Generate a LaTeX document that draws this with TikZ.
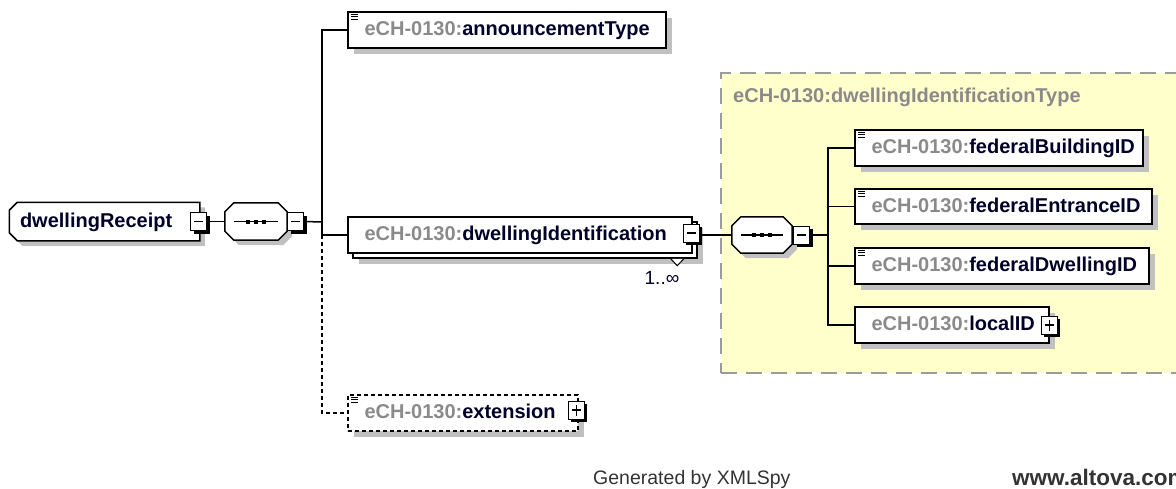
\documentclass[tikz,border=0pt]{standalone}
\usepackage{fontspec}
\setmainfont{Liberation Sans}
\usetikzlibrary{positioning,calc,shadows}

\definecolor{pfxgray}{RGB}{138,138,138}
\definecolor{namenavy}{RGB}{0,0,40}
\definecolor{shadegray}{RGB}{192,192,192}
\definecolor{typefill}{RGB}{255,255,204}
\definecolor{typeline}{RGB}{155,155,155}
\definecolor{footgray}{RGB}{51,51,51}

\pgfdeclarelayer{bg}
\pgfsetlayers{bg,main}

\newcommand{\ename}[1]{\mbox{\textcolor{pfxgray}{eCH-0130:}#1}}
% outline with cut corners: node, left cut, right cut, x offset, y offset
\newcommand{\cutpath}[5]{($(#1.north west)+(#2+#4,#5)$) -- ($(#1.north east)+(-#3+#4,#5)$)
  -- ($(#1.north east)+(#4,#3+#5)$) -- ($(#1.south east)+(#4,-#3+#5)$)
  -- ($(#1.south east)+(-#3+#4,#5)$) -- ($(#1.south west)+(#2+#4,#5)$)
  -- ($(#1.south west)+(#4,-#2+#5)$) -- ($(#1.north west)+(#4,#2+#5)$) -- cycle}

\tikzset{
  wire/.style={line width=1.5pt},
  gshadow/.style={drop shadow={shadow xshift=#1, shadow yshift=-#1, fill=shadegray, draw=none, opacity=1}},
  elembase/.style={draw, line width=1.5pt, fill=white, minimum height=36, inner xsep=16.5, inner ysep=0,
    align=left, text height=15, text depth=4, text=namenavy, font=\bfseries\fontsize{20}{24}\selectfont},
  elem/.style={elembase, gshadow=6pt},
  rootbox/.style={elembase, draw=none, fill=none, inner xsep=10, minimum width=189, minimum height=37},
  seqbox/.style={minimum width=62, minimum height=37, inner sep=0},
  cutline/.style={draw, line width=1.5pt, fill=white},
  pmbase/.style={draw, line width=0.9pt, fill=white, minimum width=16, minimum height=18, inner sep=0,
    drop shadow={shadow xshift=3pt, shadow yshift=-3pt, fill=black, draw=none, opacity=1}},
  minusbox/.style={pmbase, path picture={
    \draw[line width=1.2pt] ([xshift=3.5pt]path picture bounding box.west) -- ([xshift=-3.5pt]path picture bounding box.east);}},
  plusbox/.style={pmbase, path picture={
    \draw[line width=1.2pt] ([xshift=3.5pt]path picture bounding box.west) -- ([xshift=-3.5pt]path picture bounding box.east);
    \draw[line width=1.2pt] ([yshift=-3.5pt]path picture bounding box.north) -- ([yshift=3.5pt]path picture bounding box.south);}},
  docicon/.style={line width=0.9pt},
  typearea/.style={draw=typeline, fill=typefill, line width=1.5pt, dash pattern=on 16pt off 9pt},
  typetitle/.style={text=pfxgray, font=\bfseries\fontsize{20}{24}\selectfont, inner sep=0},
  mult/.style={text=namenavy, font=\fontsize{19}{22}\selectfont, inner sep=0},
  footer/.style={text=footgray, font=\fontsize{19.5}{23}\selectfont, inner sep=0},
}

\begin{document}
\begin{tikzpicture}[x=1pt,y=-1pt]
\useasboundingbox (0,0) rectangle (1176,488);

% type area behind the inner sequence
\begin{pgfonlayer}{bg}
\node[typearea, anchor=north west, minimum width=480, minimum height=300] (tarea) at (720,72) {};
\end{pgfonlayer}
\node[typetitle, anchor=west] (ttl) at (733,97) {eCH-0130:dwellingIdentificationType};

% root and its sequence
\node[rootbox, text width=169] (root) at (104.5,221.5) {dwellingReceipt};
\node[seqbox] (seq1) at (256,221.5) {};
\node[seqbox, minimum width=60, minimum height=36] (seq2) at (762,235) {};
\begin{pgfonlayer}{bg}
\fill[shadegray] \cutpath{root}{8}{0}{5}{5};
\draw[cutline] \cutpath{root}{8}{0}{0}{0};
\foreach \s in {seq1,seq2}{
  \fill[shadegray] \cutpath{\s}{9}{9}{5}{5};
  \draw[cutline] \cutpath{\s}{9}{9}{0}{0};
}
\end{pgfonlayer}
\node[minusbox] (rootm) at ([xshift=-1pt]root.east) {};
\node[minusbox, anchor=west] (seq1m) at (seq1.east) {};
\node[minusbox, anchor=west] (seq2m) at ([xshift=1pt]seq2.east) {};

% children of dwellingReceipt
\node[elem, text width=285] (annT) at (507,30) {\ename{announcementType}};
\node[elembase, text width=311, gshadow=11pt, copy shadow={shadow xshift=5pt, shadow yshift=-5pt}] (dwId) at (520,235) {\ename{dwellingIdentification}};
\node[minusbox] (dwIdm) at ([xshift=-1.5pt,yshift=2pt]dwId.east) {};
\node[elem, dash pattern=on 4pt off 3pt, text width=197] (ext) at (463,413) {\ename{extension}};
\node[plusbox] (extp) at ([xshift=-2.5pt,yshift=3pt]ext.east) {};

% dwellingIdentificationType content
\node[elem, text width=255] (bldg) at (999,148) {\ename{federalBuildingID}};
\node[elem, text width=264, minimum height=35] (entr) at (1003.5,206.5) {\ename{federalEntranceID}};
\node[elem, text width=261] (dwel) at (1002,266) {\ename{federalDwellingID}};
\node[elem, text width=161] (locl) at (952,325) {\ename{localID}};
\node[plusbox] (loclp) at ([xshift=-0.5pt]locl.east) {};

% sequence marks
\foreach \s in {seq1,seq2}{
  \draw[line width=1.5pt] ([xshift=9pt]\s.west) -- ([xshift=-9pt]\s.east);
  \foreach \d in {-8,0,8}
    \fill ($(\s.center)+(\d-2,-2)$) rectangle ++(4,4);
}

% simple type marks
\foreach \n in {annT,bldg,entr,dwel,ext}
  \foreach \k in {3,5.5,8}
    \draw[docicon] ($(\n.north west)+(4,\k)$) -- ++(7,0);

% connectors
\coordinate (bus1) at (322,222);
\coordinate (bus2) at (828,235);
\draw[wire] (rootm.east) -- (rootm.east -| seq1.west);
\draw[wire] (seq1m.east) -- (bus1);
\draw[wire] (annT.west) -| (bus1) |- (dwId.west);
\draw[wire, dash pattern=on 4pt off 3pt] (bus1 |- dwId.west) |- (ext.west);
\draw[wire] (dwIdm.east |- seq2.west) -- (seq2.west);
\draw[wire] (seq2m.east) -- (bus2);
\draw[wire] (bldg.west) -| (bus2) |- (locl.west);
\draw[wire] (entr.west) -- (entr.west -| bus2);
\draw[wire] (dwel.west) -- (dwel.west -| bus2);

% occurrence
\draw[line width=1pt, fill=white] ($(dwId.south east)+(-22,5)$) -- ++(6.5,7) -- ++(6.5,-7);
\node[mult] (occ) at (662,278) {1..∞};

% footer
\node[footer, anchor=base west] (gen) at (593,484) {Generated by XMLSpy};
\node[footer, font=\bfseries\fontsize{22.5}{26}\selectfont, anchor=base west] (web) at (1012,485) {www.altova.com};
\end{tikzpicture}
\end{document}
